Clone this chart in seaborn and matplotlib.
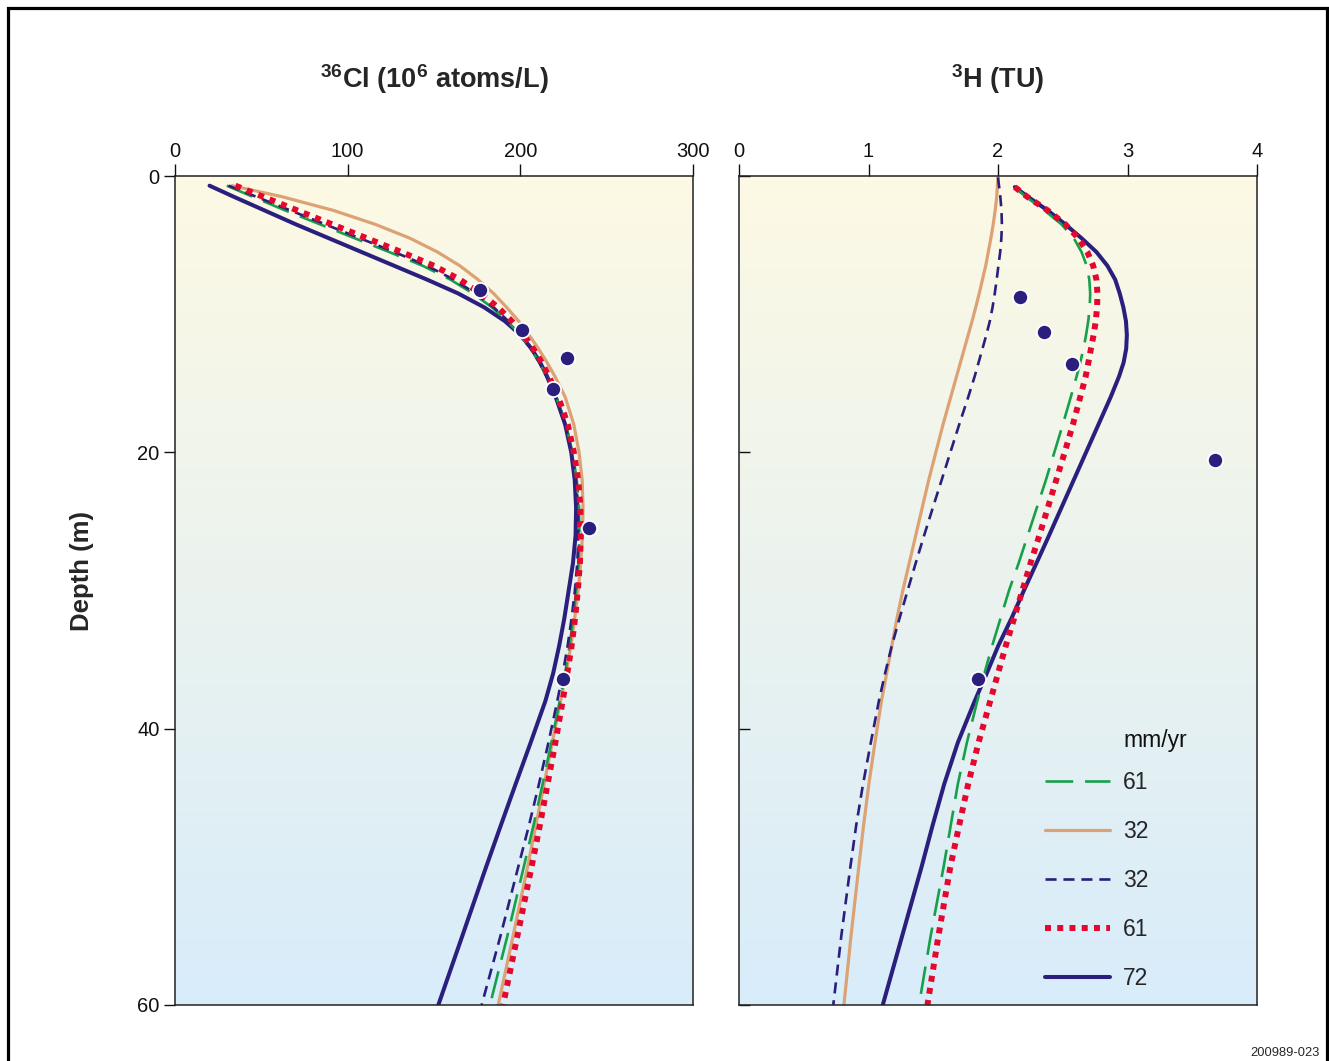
import numpy as np
import pandas as pd
import matplotlib
matplotlib.use("Agg")
import matplotlib.pyplot as plt
import seaborn as sns
from matplotlib.colors import LinearSegmentedColormap
from matplotlib.patches import Rectangle

# ---------------- data ----------------
# Left panel: 36Cl (10^6 atoms/L) vs depth (m)
cl_depth = [0.7, 1.5, 2.5, 3.5, 4.5, 5.5, 6.5, 7.5, 8.5, 9.5, 10.5, 11.5, 12.5, 13.5, 14.5,
            16, 18, 20, 22, 24, 26, 28, 30, 32, 34, 36, 38, 41, 44, 47, 50, 55, 60]
cl_green61 = [30, 45, 64, 84, 104, 124, 143.5, 159.5, 172.5, 183.5, 192.5, 200, 206, 211, 215.2,
              220.8, 226.4, 230.2, 232.7, 234, 234.2, 233.7, 232.4, 230.7, 228.5, 225.9, 222.8,
              218, 212.9, 207.6, 202, 192.5, 182.4]
cl_tan32 = [33, 62, 92, 116, 136, 152, 165, 175.5, 184.5, 192, 199, 205, 210.5, 215.5, 220,
            226, 231, 234, 235.8, 236.3, 236, 235, 233.5, 231.5, 229.3, 226.5, 223.3,
            218.5, 213.8, 209, 204.2, 195.8, 187.2]
cl_navyd32 = [31, 47, 67, 87, 107, 127, 146, 161.5, 174, 184.5, 193, 200, 206, 211, 215,
              220.5, 226, 229.8, 232.2, 233.5, 233.6, 233, 231.6, 229.7, 227.4, 224.6, 221.4,
              216.3, 210.8, 205, 198.8, 188.5, 177.6]
cl_red61 = [35, 51, 71, 91, 111, 131, 150, 165, 177, 187, 195, 202, 207.5, 212.5, 216.5,
            222, 227.5, 231, 233.5, 234.8, 235, 234.5, 233.3, 231.7, 229.7, 227.2, 224.5,
            220.3, 215.8, 211.3, 206.5, 198.3, 190]
cl_navy72 = [20, 34, 52, 70, 89, 108, 127, 146, 164, 179, 191, 200, 206.5, 211.5, 215.5,
             220.5, 226, 229.5, 231.5, 232.3, 232, 230.5, 228, 225.5, 222.5, 219, 214.5,
             206, 197.3, 188.7, 180.2, 166.4, 152.5]
cl_obs_x = [176.6, 201, 227, 218.9, 239.8, 224.7]
cl_obs_depth = [8.25, 11.15, 13.2, 15.4, 25.5, 36.4]

# Right panel: 3H (TU) vs depth (m)
h_depth32 = [0.1, 1.5, 2.5, 3.5, 4.5, 5.5, 6.5, 7.5, 8.5, 9.5, 10.5, 11.5, 12.5, 13.5, 14.5,
             16, 18, 20, 22, 24, 26, 28, 30, 32, 34, 36, 38, 41, 44, 47, 50, 55, 60]
h_depth61 = [0.8, 1.5, 2.5, 3.5, 4.5, 5.5, 6.5, 7.5, 8.5, 9.5, 10.5, 11.5, 12.5, 13.5, 14.5,
             16, 18, 20, 22, 24, 26, 28, 30, 32, 34, 36, 38, 41, 44, 47, 50, 55, 60]
h_green61 = [2.13, 2.215, 2.36, 2.49, 2.585, 2.645, 2.685, 2.705, 2.712, 2.708, 2.697, 2.68, 2.66,
             2.635, 2.607, 2.562, 2.5, 2.435, 2.37, 2.3, 2.23, 2.16, 2.085, 2.02, 1.955, 1.895,
             1.84, 1.76, 1.69, 1.635, 1.58, 1.48, 1.39]
h_tan32 = [2.0, 1.99, 1.978, 1.963, 1.945, 1.925, 1.905, 1.88, 1.855, 1.828, 1.80, 1.77, 1.74,
           1.71, 1.68, 1.635, 1.575, 1.52, 1.465, 1.415, 1.365, 1.315, 1.265, 1.22, 1.18, 1.14,
           1.10, 1.05, 1.003, 0.962, 0.925, 0.865, 0.81]
h_navyd32 = [2.0, 2.018, 2.027, 2.03, 2.026, 2.017, 2.003, 1.99, 1.975, 1.958, 1.937, 1.91, 1.88,
             1.85, 1.82, 1.77, 1.70, 1.632, 1.565, 1.497, 1.43, 1.365, 1.302, 1.24, 1.18, 1.128,
             1.08, 1.018, 0.958, 0.905, 0.86, 0.79, 0.728]
h_red61 = [2.13, 2.225, 2.385, 2.52, 2.62, 2.69, 2.735, 2.76, 2.768, 2.765, 2.755, 2.738, 2.718,
           2.698, 2.677, 2.635, 2.578, 2.515, 2.45, 2.385, 2.32, 2.252, 2.188, 2.125, 2.06, 2.0,
           1.94, 1.85, 1.77, 1.70, 1.632, 1.54, 1.455]
h_navy72 = [2.13, 2.23, 2.385, 2.52, 2.645, 2.76, 2.845, 2.905, 2.94, 2.968, 2.988, 2.995, 2.99,
            2.97, 2.935, 2.87, 2.775, 2.68, 2.585, 2.49, 2.395, 2.298, 2.20, 2.105, 2.002, 1.913,
            1.82, 1.69, 1.585, 1.495, 1.41, 1.26, 1.11]
h_obs_x = [2.17, 2.355, 2.57, 3.676, 1.846]
h_obs_depth = [8.76, 11.3, 13.6, 20.55, 36.4]

legend_labels = ["61", "32", "32", "61", "72"]
cl_ticks = [0, 100, 200, 300]
h_ticks = [0, 1, 2, 3, 4]
depth_ticks = [0, 20, 40, 60]

# ---------------- style ----------------
sns.set_style("ticks")
plt.rcParams["font.family"] = ["Liberation Sans", "DejaVu Sans"]
plt.rcParams["mathtext.fontset"] = "custom"
plt.rcParams["mathtext.rm"] = "Liberation Sans"
plt.rcParams["mathtext.bf"] = "Liberation Sans:bold"
plt.rcParams["mathtext.it"] = "Liberation Sans:italic"

NAVY = "#2B1F7E"
TAN = "#DCA274"
GREEN = "#16A04A"
RED = "#E4082E"

styles = {
    "green": dict(color=GREEN, lw=1.9, linestyle=(0, (10.5, 4.5))),
    "tan": dict(color=TAN, lw=2.3, linestyle="-"),
    "navyd": dict(color=NAVY, lw=1.9, linestyle=(0, (4.2, 2.6))),
    "red": dict(color=RED, lw=4.3, linestyle=(0, (1.0, 1.05))),
    "navy": dict(color=NAVY, lw=2.9, linestyle="-"),
}
zord = {"tan": 2, "navy": 3, "green": 4, "navyd": 5, "red": 6}

fig = plt.figure(figsize=(13.29, 10.61), dpi=100)
W, H = 1329, 1061
axL = fig.add_axes([175 / W, 1 - 1005 / H, 518 / W, 829 / H])
axR = fig.add_axes([739 / W, 1 - 1005 / H, 518 / W, 829 / H])

grad_cmap = LinearSegmentedColormap.from_list("bg", ["#FDF9E4", "#D8ECFA"])
grad = np.linspace(0, 1, 256).reshape(-1, 1)
TICK_FS = 14.5


def draw_panel(ax, xmax, series, obs_x, obs_d, with_label):
    ax.imshow(grad, cmap=grad_cmap, extent=[0, xmax, 60, 0], origin="upper",
              aspect="auto", zorder=0, interpolation="bicubic")
    handles = {}
    for key, (dep, vals) in series.items():
        df = pd.DataFrame({"x": vals, "depth": dep})
        st = styles[key]
        sns.lineplot(data=df, x="x", y="depth", orient="y", sort=True,
                     estimator=None, ax=ax, color=st["color"], lw=st["lw"],
                     linestyle=st["linestyle"], zorder=zord[key], legend=False)
        ln = ax.lines[-1]
        ln.set_dash_capstyle("butt")
        ln.set_solid_joinstyle("round")
        handles[key] = ln
    sns.scatterplot(x=obs_x, y=obs_d, ax=ax, color=NAVY, s=120,
                    edgecolor="white", linewidth=1.3, zorder=10, legend=False)
    ax.set_xlim(0, xmax)
    ax.set_ylim(60, 0)
    ax.set_xlabel("")
    ax.set_ylabel("")
    for sp in ax.spines.values():
        sp.set_visible(True)
        sp.set_linewidth(1.1)
        sp.set_color("#222222")
        sp.set_zorder(12)
    ax.xaxis.tick_top()
    ax.tick_params(axis="x", top=True, bottom=False, labeltop=True,
                   labelbottom=False, direction="out", length=8.5, width=1.0,
                   labelsize=TICK_FS, pad=2.5, colors="#111111")
    ax.set_yticks(depth_ticks)
    if with_label:
        ax.tick_params(axis="y", left=True, right=False, labelleft=True,
                       direction="out", length=8, width=1.0, labelsize=TICK_FS,
                       pad=3, colors="#111111")
    else:
        ax.tick_params(axis="y", left=True, right=False, labelleft=False,
                       direction="in", length=8, width=1.0, colors="#111111")
    return handles


draw_panel(axL, 300,
           {"tan": (cl_depth, cl_tan32), "navy": (cl_depth, cl_navy72),
            "green": (cl_depth, cl_green61), "navyd": (cl_depth, cl_navyd32),
            "red": (cl_depth, cl_red61)},
           cl_obs_x, cl_obs_depth, True)
axL.set_xticks(cl_ticks)

hR = draw_panel(axR, 4,
                {"tan": (h_depth32, h_tan32), "navy": (h_depth61, h_navy72),
                 "green": (h_depth61, h_green61), "navyd": (h_depth32, h_navyd32),
                 "red": (h_depth61, h_red61)},
                h_obs_x, h_obs_depth, False)
axR.set_xticks(h_ticks)

# legend order: green61, tan32, navyd32, red61, navy72
order = [hR["green"], hR["tan"], hR["navyd"], hR["red"], hR["navy"]]
LEG_FS = 16.5
leg = axR.legend(order, legend_labels, loc="upper left",
                 bbox_to_anchor=((1045 - 739) / 518, (1005 - 771) / 829),
                 frameon=False, fontsize=LEG_FS, handlelength=2.85,
                 handletextpad=0.55, labelspacing=1.135, borderpad=0,
                 borderaxespad=0)
axR.text((1123 - 739) / 518, (1005 - 741) / 829, "mm/yr", transform=axR.transAxes,
         ha="left", va="center", fontsize=LEG_FS, color="#111111")

# titles
axL.text(0.5, (1005 - 88) / 829, r"$\mathbf{^{36}Cl\ (10^{6}\ atoms/L)}$",
         transform=axL.transAxes, ha="center", va="baseline", fontsize=19.5)
axR.text(0.5, (1005 - 88) / 829, r"$\mathbf{^{3}H\ (TU)}$",
         transform=axR.transAxes, ha="center", va="baseline", fontsize=19.5)

fig.text(82 / W, 1 - 571 / H, "Depth (m)", rotation=90, ha="center", va="center",
         fontsize=18.5, fontweight="bold")
fig.text(1320 / W, 1 - 1053 / H, "200989-023", ha="right", va="center", fontsize=9.3)

fig.add_artist(Rectangle((8 / W, -0.05), (1327 - 8) / W, (1 - 8 / H) + 0.05,
                         transform=fig.transFigure, fill=False, lw=2.3,
                         edgecolor="black", clip_on=False))

fig.savefig("out.png", dpi=100)
